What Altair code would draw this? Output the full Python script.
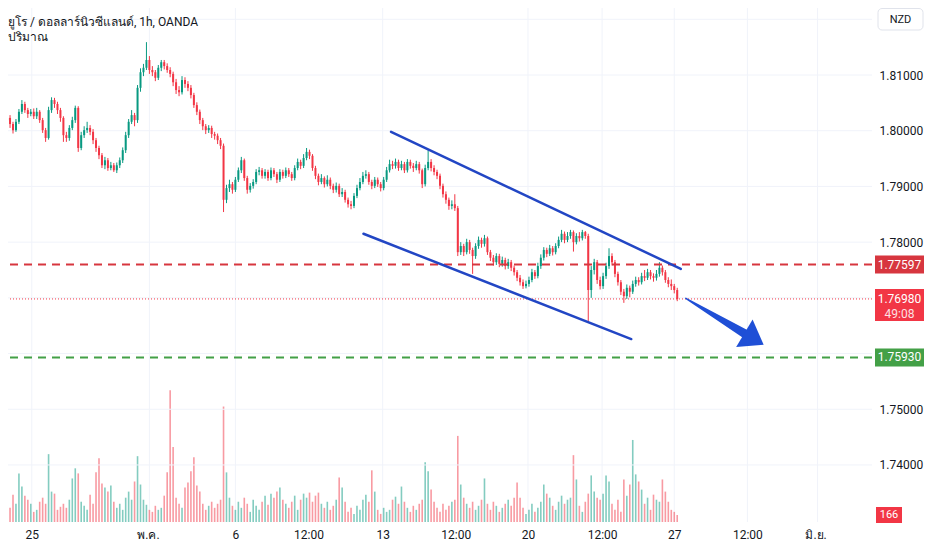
import altair as alt
import pandas as pd
import numpy as np

# ---------------- text ----------------
title_line1 = "ยูโร / ดอลลาร์นิวซีแลนด์, 1h, OANDA"
title_line2 = "ปริมาณ"
currency = "NZD"

# ---------------- candles (2-3h buckets) ----------------
first_open = 1.8019
closes = [
    1.8023, 1.8012, 1.8001, 1.8016, 1.8034, 1.8048, 1.8037, 1.8030, 1.8034, 1.8026,
    1.8034, 1.8019, 1.8001, 1.7987, 1.8037, 1.8055, 1.8048, 1.8037, 1.8023, 1.7992,
    1.7987, 1.8005, 1.8019, 1.8041, 1.7969, 1.7992, 1.8001, 1.8005, 1.7998, 1.7983,
    1.7969, 1.7956, 1.7938, 1.7947, 1.7933, 1.7938, 1.7929, 1.7938, 1.7947, 1.7965,
    1.7992, 1.8016, 1.8028, 1.8019, 1.8077, 1.8105, 1.8113, 1.8127, 1.8109, 1.8105,
    1.8095, 1.8113, 1.8123, 1.8116, 1.8109, 1.8102, 1.8087, 1.8073, 1.8069, 1.8091,
    1.8084, 1.8077, 1.8064, 1.8046, 1.8034, 1.8019, 1.8008, 1.8001, 1.8005, 1.7994,
    1.7991, 1.7983, 1.7973, 1.7876, 1.7897, 1.7904, 1.7894, 1.7912, 1.7929, 1.7947,
    1.7915, 1.7894, 1.7901, 1.7908, 1.7926, 1.7929, 1.7919, 1.7926, 1.7915, 1.7929,
    1.7922, 1.7912, 1.7926, 1.7919, 1.7929, 1.7922, 1.7915, 1.7933, 1.7944, 1.7937,
    1.7951, 1.7962, 1.7955, 1.7933, 1.7919, 1.7908, 1.7915, 1.7904, 1.7912, 1.7901,
    1.7894, 1.7901, 1.7886, 1.7890, 1.7876, 1.7868, 1.7865, 1.7883, 1.7897, 1.7908,
    1.7919, 1.7922, 1.7908, 1.7901, 1.7912, 1.7904, 1.7897, 1.7912, 1.7929, 1.7940,
    1.7937, 1.7944, 1.7933, 1.7940, 1.7929, 1.7944, 1.7937, 1.7933, 1.7940, 1.7929,
    1.7904, 1.7933, 1.7944, 1.7933, 1.7926, 1.7919, 1.7901, 1.7886, 1.7876, 1.7865,
    1.7868, 1.7861, 1.7782, 1.7793, 1.7782, 1.7800, 1.7786, 1.7775, 1.7793, 1.7804,
    1.7797, 1.7807, 1.7782, 1.7772, 1.7764, 1.7775, 1.7761, 1.7768, 1.7757, 1.7764,
    1.7754, 1.7746, 1.7736, 1.7728, 1.7721, 1.7725, 1.7732, 1.7746, 1.7739, 1.7757,
    1.7772, 1.7786, 1.7779, 1.7789, 1.7782, 1.7793, 1.7804, 1.7815, 1.7804, 1.7811,
    1.7818, 1.7800, 1.7811, 1.7807, 1.7818, 1.7811, 1.7714, 1.7750, 1.7764, 1.7732,
    1.7721, 1.7739, 1.7757, 1.7775, 1.7764, 1.7743, 1.7728, 1.7711, 1.7703, 1.7718,
    1.7711, 1.7725, 1.7732, 1.7728, 1.7739, 1.7736, 1.7746, 1.7739, 1.7736, 1.7743,
    1.7754, 1.7746, 1.7732, 1.7725, 1.7721, 1.7714, 1.7698,
]
highs = [
    1.8030, 1.8028, 1.8016, 1.8021, 1.8039, 1.8055, 1.8052, 1.8041, 1.8039, 1.8040,
    1.8041, 1.8037, 1.8023, 1.8005, 1.8043, 1.8060, 1.8059, 1.8052, 1.8041, 1.8026,
    1.7998, 1.8010, 1.8025, 1.8045, 1.8044, 1.7998, 1.8008, 1.8016, 1.8010, 1.8003,
    1.7987, 1.7973, 1.7960, 1.7953, 1.7951, 1.7944, 1.7942, 1.7943, 1.7952, 1.7970,
    1.7998, 1.8021, 1.8037, 1.8032, 1.8082, 1.8112, 1.8120, 1.8159, 1.8134, 1.8116,
    1.8109, 1.8118, 1.8127, 1.8127, 1.8121, 1.8114, 1.8106, 1.8093, 1.8080, 1.8098,
    1.8096, 1.8089, 1.8082, 1.8068, 1.8051, 1.8038, 1.8023, 1.8012, 1.8010, 1.8009,
    1.7998, 1.7995, 1.7987, 1.7977, 1.7903, 1.7912, 1.7908, 1.7917, 1.7934, 1.7953,
    1.7950, 1.7919, 1.7906, 1.7913, 1.7931, 1.7935, 1.7933, 1.7931, 1.7930, 1.7934,
    1.7933, 1.7926, 1.7931, 1.7930, 1.7934, 1.7933, 1.7926, 1.7938, 1.7950, 1.7948,
    1.7958, 1.7969, 1.7966, 1.7958, 1.7937, 1.7923, 1.7922, 1.7918, 1.7920, 1.7916,
    1.7905, 1.7907, 1.7905, 1.7897, 1.7894, 1.7880, 1.7874, 1.7888, 1.7903, 1.7915,
    1.7926, 1.7929, 1.7926, 1.7912, 1.7917, 1.7916, 1.7908, 1.7917, 1.7935, 1.7948,
    1.7946, 1.7950, 1.7948, 1.7946, 1.7944, 1.7949, 1.7948, 1.7942, 1.7946, 1.7944,
    1.7932, 1.7939, 1.7965, 1.7949, 1.7938, 1.7930, 1.7923, 1.7905, 1.7891, 1.7880,
    1.7875, 1.7886, 1.7865, 1.7800, 1.7797, 1.7806, 1.7804, 1.7790, 1.7798, 1.7810,
    1.7808, 1.7813, 1.7810, 1.7786, 1.7777, 1.7780, 1.7779, 1.7774, 1.7772, 1.7770,
    1.7768, 1.7758, 1.7750, 1.7741, 1.7733, 1.7731, 1.7738, 1.7752, 1.7750, 1.7763,
    1.7778, 1.7791, 1.7790, 1.7795, 1.7793, 1.7798, 1.7810, 1.7822, 1.7819, 1.7818,
    1.7822, 1.7821, 1.7816, 1.7818, 1.7822, 1.7820, 1.7815, 1.7757, 1.7770, 1.7768,
    1.7738, 1.7745, 1.7763, 1.7789, 1.7780, 1.7768, 1.7747, 1.7732, 1.7716, 1.7724,
    1.7722, 1.7731, 1.7738, 1.7737, 1.7745, 1.7750, 1.7752, 1.7750, 1.7744, 1.7750,
    1.7764, 1.7758, 1.7750, 1.7737, 1.7733, 1.7725, 1.7718,
]
lows = [
    1.8012, 1.8005, 1.7995, 1.7998, 1.8012, 1.8030, 1.8032, 1.8023, 1.8026, 1.8021,
    1.8021, 1.8014, 1.7996, 1.7980, 1.7984, 1.8032, 1.8041, 1.8030, 1.8016, 1.7980,
    1.7980, 1.7982, 1.8001, 1.8014, 1.7962, 1.7965, 1.7987, 1.7996, 1.7992, 1.7976,
    1.7962, 1.7949, 1.7933, 1.7931, 1.7928, 1.7929, 1.7926, 1.7924, 1.7933, 1.7942,
    1.7960, 1.7987, 1.8012, 1.8008, 1.8014, 1.8070, 1.8098, 1.8109, 1.8102, 1.8098,
    1.8089, 1.8091, 1.8107, 1.8110, 1.8104, 1.8096, 1.8080, 1.8066, 1.8062, 1.8065,
    1.8077, 1.8071, 1.8058, 1.8041, 1.8028, 1.8012, 1.8001, 1.7994, 1.7996, 1.7987,
    1.7984, 1.7976, 1.7967, 1.7854, 1.7870, 1.7890, 1.7887, 1.7890, 1.7908, 1.7924,
    1.7910, 1.7887, 1.7889, 1.7896, 1.7904, 1.7920, 1.7914, 1.7914, 1.7910, 1.7911,
    1.7917, 1.7906, 1.7908, 1.7914, 1.7915, 1.7917, 1.7910, 1.7911, 1.7929, 1.7931,
    1.7933, 1.7947, 1.7949, 1.7928, 1.7913, 1.7902, 1.7904, 1.7898, 1.7900, 1.7895,
    1.7888, 1.7889, 1.7881, 1.7881, 1.7871, 1.7862, 1.7859, 1.7861, 1.7879, 1.7893,
    1.7904, 1.7914, 1.7903, 1.7895, 1.7897, 1.7899, 1.7891, 1.7893, 1.7908, 1.7925,
    1.7931, 1.7932, 1.7928, 1.7929, 1.7924, 1.7925, 1.7932, 1.7926, 1.7929, 1.7923,
    1.7897, 1.7900, 1.7929, 1.7927, 1.7920, 1.7913, 1.7895, 1.7880, 1.7869, 1.7858,
    1.7859, 1.7856, 1.7775, 1.7777, 1.7775, 1.7778, 1.7779, 1.7743, 1.7770, 1.7788,
    1.7790, 1.7792, 1.7777, 1.7766, 1.7758, 1.7759, 1.7755, 1.7756, 1.7751, 1.7752,
    1.7748, 1.7740, 1.7730, 1.7722, 1.7716, 1.7717, 1.7720, 1.7728, 1.7734, 1.7735,
    1.7752, 1.7767, 1.7773, 1.7775, 1.7776, 1.7778, 1.7789, 1.7800, 1.7798, 1.7800,
    1.7806, 1.7783, 1.7796, 1.7801, 1.7803, 1.7806, 1.7657, 1.7700, 1.7742, 1.7725,
    1.7715, 1.7716, 1.7734, 1.7752, 1.7758, 1.7737, 1.7722, 1.7705, 1.7691, 1.7698,
    1.7701, 1.7707, 1.7720, 1.7722, 1.7724, 1.7730, 1.7732, 1.7733, 1.7729, 1.7731,
    1.7738, 1.7740, 1.7727, 1.7719, 1.7714, 1.7708, 1.7694,
]
volumes = [
    480, 336, 648, 432, 1152, 840, 624, 528, 432, 240,
    288, 480, 576, 432, 1608, 720, 672, 288, 360, 432,
    336, 528, 1032, 1272, 1152, 480, 384, 288, 648, 432,
    1176, 1512, 912, 816, 720, 864, 480, 336, 432, 288,
    576, 720, 528, 960, 1560, 888, 528, 408, 288, 240,
    384, 288, 336, 624, 1176, 3120, 1776, 576, 432, 336,
    816, 936, 1200, 1536, 864, 720, 432, 288, 384, 480,
    336, 432, 528, 2736, 1176, 576, 384, 288, 480, 336,
    576, 432, 240, 528, 384, 288, 480, 624, 408, 672,
    576, 720, 816, 528, 432, 336, 480, 624, 288, 528,
    672, 576, 696, 480, 624, 696, 432, 336, 480, 288,
    384, 528, 1056, 816, 480, 240, 336, 192, 384, 288,
    528, 648, 480, 1224, 720, 288, 192, 336, 240, 288,
    528, 600, 432, 840, 480, 336, 240, 384, 288, 432,
    528, 1416, 1200, 768, 480, 336, 240, 432, 288, 384,
    480, 528, 2040, 888, 576, 432, 336, 480, 288, 384,
    528, 1032, 432, 288, 480, 384, 240, 336, 432, 528,
    384, 576, 936, 576, 336, 192, 288, 432, 240, 336,
    480, 888, 672, 576, 384, 288, 480, 624, 432, 528,
    576, 1584, 1008, 384, 240, 480, 672, 1104, 720, 576,
    528, 672, 1104, 960, 432, 288, 528, 240, 1008, 624,
    888, 1944, 1128, 960, 768, 432, 576, 288, 648, 528,
    480, 1008, 720, 480, 288, 240, 166,
]

# ---------------- axes ----------------
x_tick_pos = [8.33, 47.5, 77.0, 101.67, 126.67, 151.33, 175.67, 200.67, 225.0, 249.67, 272.67]
x_tick_labels = ["25", "พ.ค.", "6", "12:00", "13", "12:00", "20", "12:00", "27", "12:00", "มิ.ย."]
x_grid_pos = [8.33, 48.0, 77.0, 126.67, 175.67, 200.67, 225.0, 249.67, 273.33]
y_label_vals = [1.74, 1.75, 1.78, 1.79, 1.80, 1.81]
y_grid_vals = [1.74, 1.75, 1.76, 1.77, 1.78, 1.79, 1.80, 1.81, 1.82]

# ---------------- drawings ----------------
resistance = 1.77597
support = 1.75930
last_price = 1.76980
countdown = "49:08"
last_volume = 166

trend_name = ["upper", "upper", "lower", "lower"]
trend_i = [129.5, 227.2, 120.2, 210.5]
trend_p = [1.7998, 1.7752, 1.7815, 1.7626]

arrow_i = [228.9, 248.7]
arrow_p = [1.7699, 1.7636]
arrow_w = [1.5, 9.0]
arrow_head_i = [251.9]
arrow_head_p = [1.7626]

# ---------------- layout / style ----------------
W, H = 864, 514
XDOM = [2.0, 290.0]
YDOM = [1.72976, 1.82203]
VDOM = [0, 12180]
UP, DOWN = "#089981", "#f23645"
TXT = "#131722"
GRID = "#f0f3fa"
FONT = "Roboto, 'Noto Sans', 'DejaVu Sans', sans-serif"

n = len(closes)
opens = [first_open] + closes[:-1]
df = pd.DataFrame({
    "i": np.arange(n), "open": opens, "close": closes,
    "high": highs[:n], "low": lows[:n], "vol": volumes[:n],
})
df["dir"] = np.where(df["close"] >= df["open"], "up", "down")

label_expr = "[" + ",".join("'%s'" % s for s in x_tick_labels) + "][indexof([" + \
    ",".join(repr(v) for v in x_tick_pos) + "], datum.value)]"

xscale = alt.Scale(domain=XDOM, nice=False, zero=False)
xaxis = alt.Axis(values=x_tick_pos, labelExpr=label_expr, grid=False, ticks=False,
                 domain=False, labelPadding=7, title=None, labelFontSize=12,
                 labelColor=TXT, labelFont=FONT, labelFlush=False, labelOverlap=False)
yscale = alt.Scale(domain=YDOM, nice=False, zero=False)
yaxis = alt.Axis(orient="right", values=y_label_vals, format=".5f", grid=False, ticks=False,
                 domain=False, labelPadding=7, title=None, labelFontSize=12,
                 labelColor=TXT, labelFont=FONT, labelBaseline="middle")
vscale = alt.Scale(domain=VDOM, nice=False, zero=True)


def xq(f):
    return alt.X(f, type="quantitative", scale=xscale, axis=xaxis)


def yq(f):
    return alt.Y(f, type="quantitative", scale=yscale, axis=yaxis)


dir_color = alt.Color("dir:N", scale=alt.Scale(domain=["up", "down"], range=[UP, DOWN]), legend=None)

# grid
vgrid = alt.Chart(pd.DataFrame({"gx": x_grid_pos})).mark_rule(color=GRID, strokeWidth=1).encode(x=xq("gx"))
hgrid = alt.Chart(pd.DataFrame({"gy": y_grid_vals})).mark_rule(color=GRID, strokeWidth=1).encode(y=yq("gy"))

# volume
vol_bars = alt.Chart(df).mark_bar(size=1.6, opacity=0.5, clip=True).encode(
    x=xq("i"), y=alt.Y("vol:Q", scale=vscale, axis=None), color=dir_color)
vol_df = pd.DataFrame({"v": [last_volume], "t": [str(last_volume)]})
vol_box = alt.Chart(vol_df).mark_rule(color=DOWN, strokeWidth=16, strokeCap="butt").encode(
    x=alt.value(W + 4), x2=alt.value(W + 30), y=alt.Y("v:Q", scale=vscale, axis=None))
vol_txt = alt.Chart(vol_df).mark_text(color="white", fontSize=11, font=FONT, align="center",
                                      baseline="middle").encode(
    x=alt.value(W + 17), y=alt.Y("v:Q", scale=vscale, axis=None), text="t:N")
volume_layer = alt.layer(vol_bars, vol_box, vol_txt)

# candles
wicks = alt.Chart(df).mark_rule(strokeWidth=1, clip=True).encode(
    x=xq("i"), y=yq("low"), y2="high", color=dir_color)
bodies = alt.Chart(df).mark_bar(size=2, clip=True).encode(
    x=xq("i"), y=yq("open"), y2="close", color=dir_color)

# horizontal levels
res_df = pd.DataFrame({"p": [resistance], "t": ["%.5f" % resistance]})
sup_df = pd.DataFrame({"p": [support], "t": ["%.5f" % support]})
cur_df = pd.DataFrame({"p": [last_price], "t": ["%.5f" % last_price], "c": [countdown]})
RED_LVL, GREEN_LVL = "#d7363f", "#43a047"
res_line = alt.Chart(res_df).mark_rule(color=RED_LVL, strokeWidth=2, strokeDash=[8, 6]).encode(y=yq("p"))
sup_line = alt.Chart(sup_df).mark_rule(color=GREEN_LVL, strokeWidth=2, strokeDash=[8, 6]).encode(y=yq("p"))
cur_line = alt.Chart(cur_df).mark_rule(color=DOWN, strokeWidth=1, strokeDash=[1, 2]).encode(y=yq("p"))

res_box = alt.Chart(res_df).mark_rule(color=RED_LVL, strokeWidth=18, strokeCap="butt").encode(
    x=alt.value(W + 3), x2=alt.value(W + 52), y=yq("p"))
sup_box = alt.Chart(sup_df).mark_rule(color=GREEN_LVL, strokeWidth=18, strokeCap="butt").encode(
    x=alt.value(W + 3), x2=alt.value(W + 52), y=yq("p"))
cur_box = alt.Chart(cur_df).mark_rule(color=DOWN, strokeWidth=32, strokeCap="butt", yOffset=6).encode(
    x=alt.value(W + 3), x2=alt.value(W + 52), y=yq("p"))
box_text_kw = dict(color="white", fontSize=12, font=FONT, align="center", baseline="middle")
res_txt = alt.Chart(res_df).mark_text(**box_text_kw).encode(x=alt.value(W + 27.5), y=yq("p"), text="t:N")
sup_txt = alt.Chart(sup_df).mark_text(**box_text_kw).encode(x=alt.value(W + 27.5), y=yq("p"), text="t:N")
cur_txt = alt.Chart(cur_df).mark_text(**box_text_kw).encode(x=alt.value(W + 27.5), y=yq("p"), text="t:N")
cur_cd = alt.Chart(cur_df).mark_text(dy=15, opacity=0.85, **box_text_kw).encode(
    x=alt.value(W + 27.5), y=yq("p"), text="c:N")

# trend lines
trend_df = pd.DataFrame({"name": trend_name, "ti": trend_i, "tp": trend_p})
trends = alt.Chart(trend_df).mark_line(color="#2246c4", strokeWidth=2.5, strokeCap="round").encode(
    x=xq("ti"), y=yq("tp"), detail="name:N")

# arrow
arrow_df = pd.DataFrame({"ai": arrow_i, "ap": arrow_p, "aw": arrow_w})
ARROW = "#1f4fd6"
arrow_shaft = alt.Chart(arrow_df).mark_trail(color=ARROW).encode(
    x=xq("ai"), y=yq("ap"), size=alt.Size("aw:Q", scale=None, legend=None))
head_df = pd.DataFrame({"hi": arrow_head_i, "hp": arrow_head_p})
arrow_head = alt.Chart(head_df).mark_point(
    shape="M-1,-1.42L1,0L-1,1.42Z", filled=True, size=506, angle=31, color=ARROW, opacity=1
).encode(x=xq("hi"), y=yq("hp"))

# titles and currency badge
title_df = pd.DataFrame({"t1": [title_line1], "t2": [title_line2], "cur": [currency]})
t1 = alt.Chart(title_df).mark_text(align="left", baseline="alphabetic", fontSize=12, font=FONT,
                                   color=TXT).encode(x=alt.value(0), y=alt.value(18), text="t1:N")
t2 = alt.Chart(title_df).mark_text(align="left", baseline="alphabetic", fontSize=12, font=FONT,
                                   color=TXT).encode(x=alt.value(0), y=alt.value(33), text="t2:N")
badge = alt.Chart(title_df).mark_rect(fill="white", stroke="#e0e3eb", strokeWidth=1, cornerRadius=4).encode(
    x=alt.value(W + 6), x2=alt.value(W + 51), y=alt.value(0.5), y2=alt.value(22))
badge_txt = alt.Chart(title_df).mark_text(align="center", baseline="middle", fontSize=11, font=FONT,
                                          color=TXT).encode(x=alt.value(W + 28.5), y=alt.value(11.5), text="cur:N")

price_layer = alt.layer(
    hgrid, wicks, bodies, res_line, sup_line, cur_line, trends, arrow_shaft, arrow_head,
    res_box, sup_box, cur_box, res_txt, sup_txt, cur_txt, cur_cd, t1, t2, badge, badge_txt,
)

chart = alt.layer(vgrid, volume_layer, price_layer).resolve_scale(y="independent").properties(
    width=W, height=H,
    padding={"left": 0, "top": 0, "right": 52, "bottom": 24},
    autosize=alt.AutoSizeParams(type="none"),
    background="white",
).configure_view(stroke=None)

chart.save("out.html", embed_options={"renderer": "svg", "actions": False})
